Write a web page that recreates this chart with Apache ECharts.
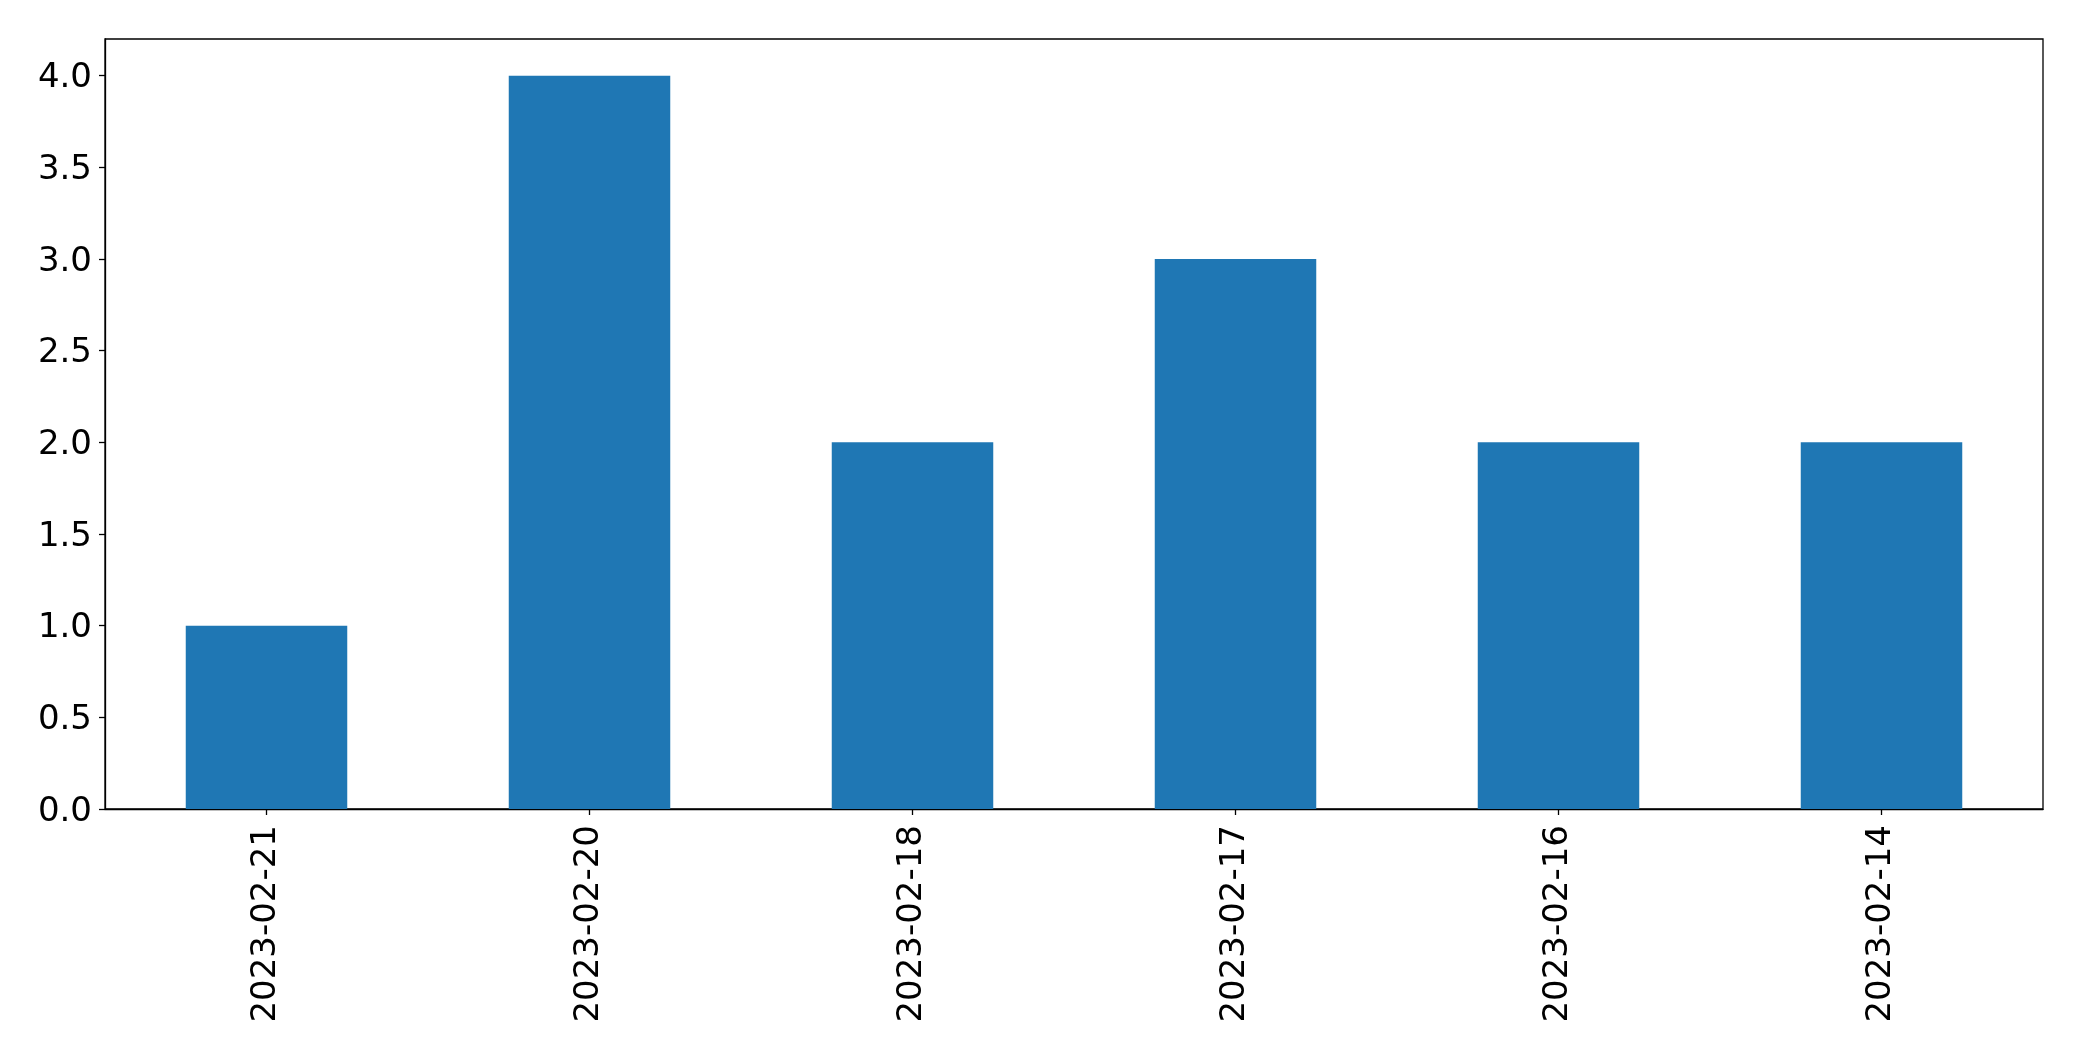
<!DOCTYPE html>
<html>
<head>
<meta charset="utf-8">
<script src="https://cdn.jsdelivr.net/npm/echarts@6/dist/echarts.min.js"></script>
<style>
html,body{margin:0;padding:0;background:#fff;}
#c{width:2082px;height:1061px;}
</style>
</head>
<body>
<div id="c"></div>
<script>
const categories = ['2023-02-21','2023-02-20','2023-02-18','2023-02-17','2023-02-16','2023-02-14'];
const counts = [1, 4, 2, 3, 2, 2];
const yTicks = [0, 0.5, 1.0, 1.5, 2.0, 2.5, 3.0, 3.5, 4.0];

const chart = echarts.init(document.getElementById('c'), null, {renderer: 'canvas'});
const font = 'DejaVu Sans';
chart.setOption({
  animation: false,
  backgroundColor: '#ffffff',
  grid: {
    left: 105, right: 39, top: 39, bottom: 252,
    show: true, borderColor: '#000', borderWidth: 1.3, backgroundColor: 'transparent'
  },
  xAxis: {
    type: 'category',
    data: categories,
    axisLine: {show: true, lineStyle: {color: '#000', width: 1.3}},
    axisTick: {show: true, alignWithLabel: true, length: 6, lineStyle: {color: '#000', width: 1.3}},
    axisLabel: {rotate: 90, fontFamily: font, fontSize: 34, color: '#000', margin: 16, interval: 0},
    splitLine: {show: false}
  },
  yAxis: {
    type: 'value',
    min: 0, max: 4.2, interval: 0.5,
    axisLine: {show: true, lineStyle: {color: '#000', width: 1.3}},
    axisTick: {show: true, length: 6, lineStyle: {color: '#000', width: 1.3}, customValues: yTicks},
    axisLabel: {fontFamily: font, fontSize: 34, color: '#000', margin: 13, customValues: yTicks,
      formatter: v => '{a|' + Number(v).toFixed(1) + '}',
      rich: {a: {fontFamily: font, fontSize: 34, color: '#000', padding: [6, 0, 0, 0]}}},
    splitLine: {show: false}
  },
  series: [{
    type: 'bar',
    data: counts,
    barWidth: '50%',
    itemStyle: {color: '#1f77b4'}
  }]
});
</script>
</body>
</html>
